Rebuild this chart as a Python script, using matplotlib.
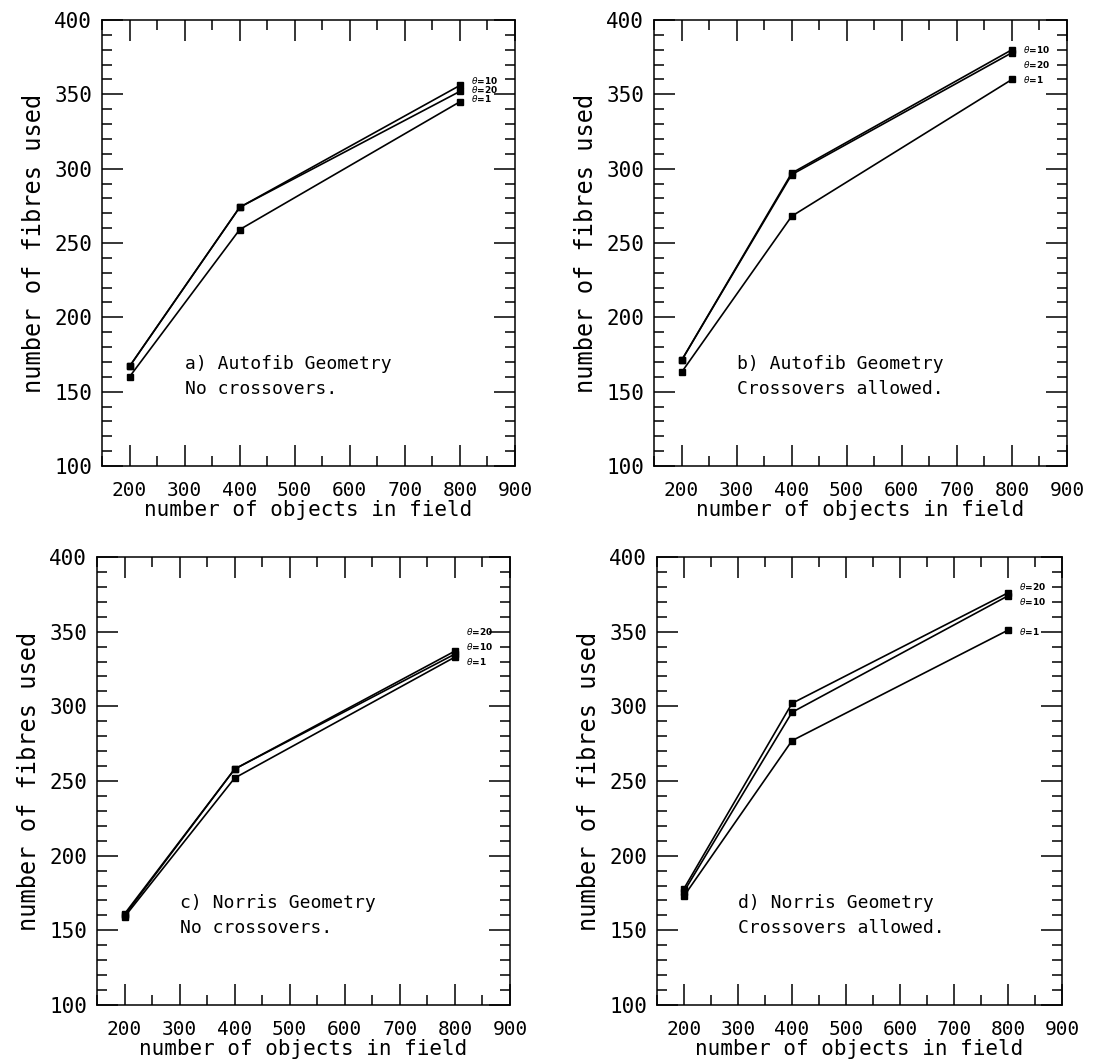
import matplotlib
matplotlib.use('Agg')
import matplotlib.pyplot as plt
from matplotlib.ticker import MultipleLocator

# number of objects in field
n_objects = [200, 400, 800]

# fibres used, one list per theta value, per panel
a_t1 = [160, 259, 345]
a_t10 = [167, 274, 356]
a_t20 = [167, 274, 352]

b_t1 = [163, 268, 360]
b_t10 = [171, 297, 380]
b_t20 = [171, 296, 378]

c_t1 = [159, 252, 333]
c_t10 = [160, 258, 335]
c_t20 = [161, 258, 337]

d_t1 = [173, 277, 351]
d_t10 = [176, 296, 374]
d_t20 = [178, 302, 376]

titles = ['a) Autofib Geometry\nNo crossovers.',
          'b) Autofib Geometry\nCrossovers allowed.',
          'c) Norris Geometry\nNo crossovers.',
          'd) Norris Geometry\nCrossovers allowed.']

W, H = 1093, 1062
fig = plt.figure(figsize=(W / 100, H / 100), dpi=100)

# panel boxes in pixels: left, right, top, bottom
boxes = [(102, 515, 20, 466), (654, 1067, 20, 466),
         (97, 510, 557, 1005), (657, 1062, 557, 1005)]
# theta label heights (layout only)
lab_y = [{'1': 347, '10': 359, '20': 353},
         {'1': 360, '10': 380, '20': 370},
         {'1': 330, '10': 340, '20': 350},
         {'1': 350, '10': 370, '20': 380}]

panels = [(a_t1, a_t10, a_t20), (b_t1, b_t10, b_t20),
          (c_t1, c_t10, c_t20), (d_t1, d_t10, d_t20)]

mono = 'DejaVu Sans Mono'

for i, (series, box) in enumerate(zip(panels, boxes)):
    l, r, t, b = box
    ax = fig.add_axes([l / W, 1 - b / H, (r - l) / W, (b - t) / H])
    for ys, th in zip(series, ['1', '10', '20']):
        ax.plot(n_objects, ys, color='black', lw=1.2, marker='s', ms=4.5)
        ax.text(820, lab_y[i][th], r'$\theta$=' + th, fontsize=6.5,
                fontweight='bold', ha='left', va='center')
    ax.set_xlim(150, 900)
    ax.set_ylim(100, 400)
    ax.xaxis.set_major_locator(MultipleLocator(100))
    ax.xaxis.set_minor_locator(MultipleLocator(50))
    ax.yaxis.set_major_locator(MultipleLocator(50))
    ax.yaxis.set_minor_locator(MultipleLocator(10))
    ax.tick_params(which='both', direction='in', top=True, right=True,
                   width=1.1)
    ax.tick_params(which='major', length=15)
    ax.tick_params(which='minor', length=7)
    ax.tick_params(axis='x', which='major', pad=11, labelsize=14)
    ax.tick_params(axis='y', which='major', pad=7, labelsize=15)
    for s in ax.spines.values():
        s.set_linewidth(1.1)
    ax.set_xticks(range(200, 1000, 100))
    for lab in ax.get_xticklabels() + ax.get_yticklabels():
        lab.set_family(mono)
    ax.set_xlabel('number of objects in field', family=mono, fontsize=15,
                  labelpad=0)
    ax.set_ylabel('number of fibres used', family=mono, fontsize=17,
                  labelpad=6)
    ax.text(0.20, 0.20, titles[i], transform=ax.transAxes, family=mono,
            fontsize=13, ha='left', va='center', linespacing=1.5)

fig.savefig('out.png', dpi=100)
